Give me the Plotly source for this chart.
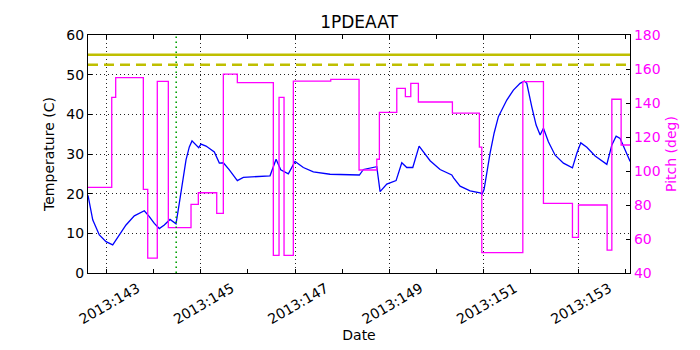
import plotly.graph_objects as go

# ---- data ----
temp_days = [142.610, 142.710, 142.850, 142.992, 143.134, 143.274, 143.416, 143.592, 143.804,
             143.910, 144.016, 144.122, 144.228, 144.349, 144.476, 144.546, 144.618, 144.688,
             144.758, 144.815, 144.957, 145.006, 145.112, 145.288, 145.394, 145.479, 145.606,
             145.776, 145.903, 146.469, 146.597, 146.696, 146.857, 146.999, 147.175, 147.387,
             147.741, 148.363, 148.448, 148.732, 148.802, 148.944, 149.141, 149.262, 149.368,
             149.495, 149.629, 149.720, 149.862, 150.074, 150.322, 150.360, 150.498, 150.710,
             150.922, 150.965, 151.007, 151.134, 151.220, 151.310, 151.488, 151.628, 151.770,
             151.861, 151.912, 152.018, 152.110, 152.195, 152.265, 152.370, 152.513, 152.689,
             152.880, 152.973, 153.057, 153.185, 153.361, 153.609, 153.715, 153.806, 153.891,
             153.997, 154.103]
temp_vals = [19.6, 13.4, 9.6, 7.9, 7.1, 9.6, 12.1, 14.4, 15.7,
             14.2, 12.5, 11.2, 12.1, 13.5, 12.4, 17.6, 23.4, 28.5,
             31.8, 33.3, 31.6, 32.5, 32.0, 30.5, 27.7, 27.8, 26.0,
             23.3, 24.1, 24.5, 28.7, 26.0, 25.0, 28.1, 26.6, 25.5,
             24.9, 24.7, 26.1, 26.8, 20.5, 22.4, 23.3, 27.8, 26.6,
             26.6, 32.0, 30.6, 28.3, 26.1, 24.7, 24.0, 21.9, 20.7,
             20.2, 19.9, 21.1, 30.2, 35.3, 39.4, 43.6, 46.1, 47.8,
             48.4, 47.8, 41.9, 37.3, 34.8, 36.5, 33.1, 29.7, 27.7,
             26.5, 30.2, 32.8, 31.7, 29.5, 27.4, 32.3, 34.5, 33.9,
             31.0, 28.1]

pitch_days = [142.61, 143.113, 143.197, 143.783, 143.876, 144.079, 144.313, 144.794,
              144.949, 145.339, 145.479, 145.776, 146.539, 146.66, 146.766, 146.963,
              147.756, 148.356, 148.732, 148.787, 149.156, 149.338, 149.453, 149.614,
              150.335, 150.907, 150.958, 151.828, 152.265, 152.88, 153.007, 153.615,
              153.715, 153.912, 154.10]
pitch_vals = [90.4, 143.3, 154.9, 89.2, 48.8, 152.7, 66.7, 80.4,
              87.2, 75.1, 157.0, 152.0, 50.4, 143.3, 50.4, 152.9,
              153.9, 100.6, 106.9, 134.5, 148.6, 143.7, 151.6, 140.6,
              134.1, 114.0, 52.0, 152.6, 81.0, 61.0, 80.0, 53.5,
              142.2, 115.3, 115.3]

major_days = [143, 145, 147, 149, 151, 153]
major_labels = ["2013:143", "2013:145", "2013:147", "2013:149", "2013:151", "2013:153"]
minor_days = [144, 146, 148, 150, 152, 154]
limit_solid = [55]
limit_dashed = [52.5]
event_days = [144.48]
x_range = [142.61, 154.10]

FONT = "DejaVu Sans"
GRID = dict(showgrid=True, gridcolor="#222222", griddash="1px,3px", gridwidth=1)

fig = go.Figure()
fig.add_trace(go.Scatter(x=temp_days, y=temp_vals, mode="lines",
                         line=dict(color="#0000ff", width=1.3), yaxis="y", showlegend=False))
fig.add_trace(go.Scatter(x=pitch_days, y=pitch_vals, mode="lines",
                         line=dict(color="#ff00ff", width=1.3, shape="hv"), yaxis="y2",
                         showlegend=False))
for v in limit_solid:
    fig.add_trace(go.Scatter(x=x_range, y=[v, v], mode="lines",
                             line=dict(color="#bfbf00", width=2.5), yaxis="y", showlegend=False))
for v in limit_dashed:
    fig.add_trace(go.Scatter(x=x_range, y=[v, v], mode="lines",
                             line=dict(color="#bfbf00", width=2.5, dash="10px,6px"), yaxis="y",
                             showlegend=False))
for d in event_days:
    fig.add_shape(type="line", xref="x", yref="paper", x0=d, x1=d, y0=0, y1=1,
                  line=dict(color="#00a000", width=1.6, dash="1.6px,3.4px"))

fig.update_layout(
    width=700, height=350,
    margin=dict(l=88, r=70, t=35, b=77),
    paper_bgcolor="white", plot_bgcolor="white",
    font=dict(family=FONT, size=14, color="black"),
    title=dict(text="1PDEAAT", x=0.5, xref="paper", y=1 - 22 / 350, yref="container",
               xanchor="center", yanchor="middle", font=dict(size=17, family=FONT)),
    xaxis=dict(range=x_range, tickmode="array", tickvals=major_days, ticktext=major_labels,
               tickangle=-30, ticks="inside", ticklen=4, tickcolor="black",
               showline=True, linecolor="black", linewidth=1.3, mirror="allticks",
               zeroline=False, ticklabelshift=31, ticklabelstandoff=1, automargin=False,
               tickfont=dict(size=14),
               minor=dict(tickvals=minor_days, ticks="inside", ticklen=3, tickcolor="black",
                          showgrid=False),
               title=dict(text="Date", font=dict(size=14), standoff=0), **GRID),
    yaxis=dict(range=[0, 60], dtick=10, ticks="inside", ticklen=4, tickcolor="black",
               showline=True, linecolor="black", linewidth=1.3, zeroline=False,
               automargin=False, tickfont=dict(size=14),
               title=dict(text="Temperature (C)", font=dict(size=14), standoff=8), **GRID),
    yaxis2=dict(range=[40, 180], dtick=20, overlaying="y", side="right", ticks="inside",
                ticklen=4, tickcolor="black", showgrid=False, zeroline=False,
                showline=True, linecolor="black", linewidth=1.3, automargin=False,
                tickfont=dict(color="#ff00ff", size=14),
                title=dict(text="Pitch (deg)", font=dict(color="#ff00ff", size=14), standoff=6)),
)

fig.write_html("out.html")
